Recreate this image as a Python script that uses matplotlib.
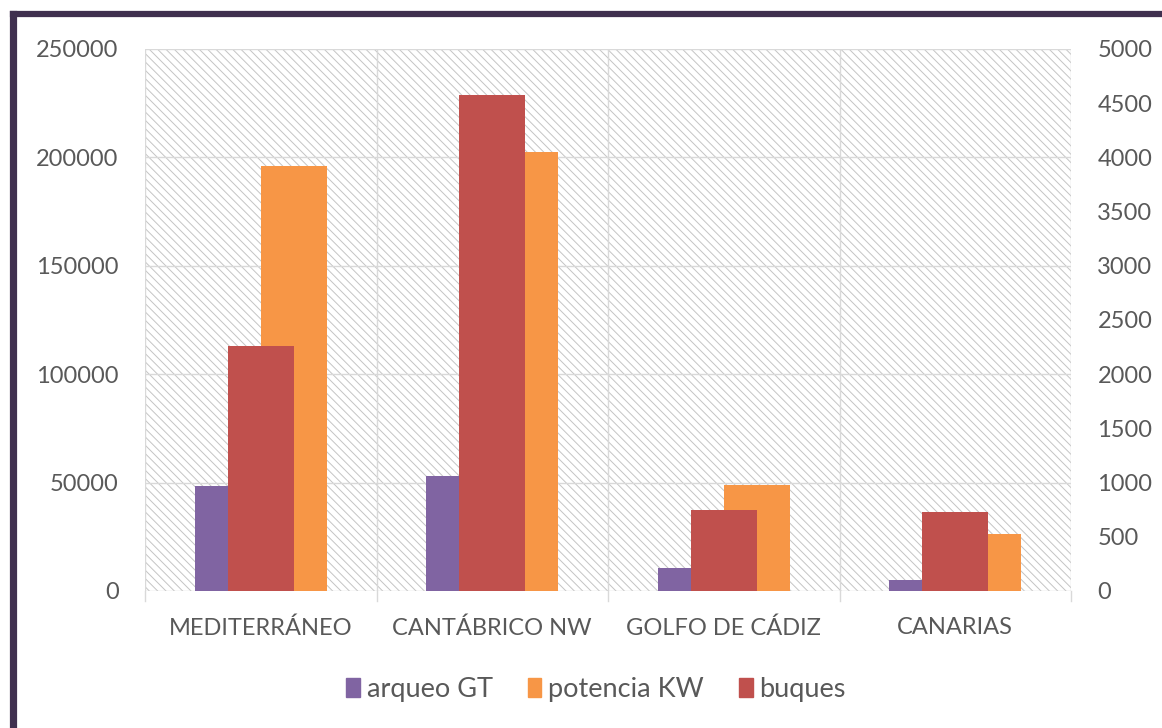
import matplotlib

matplotlib.use("Agg")
import matplotlib.pyplot as plt
import numpy as np
from matplotlib.patches import Rectangle
from matplotlib.lines import Line2D

categories = ["MEDITERRÁNEO", "CANTÁBRICO NW", "GOLFO DE CÁDIZ", "CANARIAS"]
arqueo_gt = [48500, 53000, 10600, 5000]
potencia_kw = [196000, 202500, 49000, 26300]
buques = [2260, 4580, 750, 725]

left_ticks = [0, 50000, 100000, 150000, 200000, 250000]
right_ticks = [0, 500, 1000, 1500, 2000, 2500, 3000, 3500, 4000, 4500, 5000]

PURPLE = "#8064a2"
ORANGE = "#f79646"
RED = "#c0504d"
TEXT = "#595959"
GRID = "#d9d9d9"
BORDER = "#40304f"

plt.rcParams.update({"font.family": ["Lato", "DejaVu Sans"], "hatch.linewidth": 0.7})

fig = plt.figure(figsize=(11.62, 7.28), dpi=100, facecolor="white")
ax = fig.add_axes([0.1248, 0.1882, 0.7969, 0.7445])
ax2 = ax.twinx()

# hatched plot background
ax.patch.set_visible(False)
bg = Rectangle((0, 0), 1, 1, transform=ax.transAxes, facecolor="white",
               edgecolor="#c4c4c4", hatch="\\\\\\\\", linewidth=0, zorder=-5)
ax.add_patch(bg)

x = np.arange(len(categories))
w = 0.285
ax.bar(x - w / 2, arqueo_gt, w, color=PURPLE, zorder=2, label="arqueo GT")
ax.bar(x + w / 2, potencia_kw, w, color=ORANGE, zorder=2, label="potencia KW")
ax2.bar(x, buques, w, color=RED, zorder=2, label="buques")

ax.set_xlim(-0.5, len(categories) - 0.5)
ax.set_ylim(0, 250000)
ax2.set_ylim(0, 5000)
ax.set_yticks(left_ticks, [str(v) for v in left_ticks])
ax2.set_yticks(right_ticks, [str(v) for v in right_ticks])

# gridlines
for v in left_ticks:
    ax.axhline(v, color=GRID, linewidth=1, zorder=1)
for b in np.arange(-0.5, len(categories), 1):
    ax.axvline(b, color=GRID, linewidth=1, zorder=1)
    ax.plot([b, b], [0, -0.018], transform=ax.get_xaxis_transform(), color=GRID,
            linewidth=1, clip_on=False)

ax.set_xticks(x, categories)
for a in (ax, ax2):
    for s in a.spines.values():
        s.set_visible(False)
    a.tick_params(length=0, colors=TEXT, labelsize=17)
ax.tick_params(axis="x", pad=19)
ax.tick_params(axis="y", pad=19)
ax2.tick_params(axis="y", pad=19)
ax2.set_zorder(ax.get_zorder() + 1)
ax2.patch.set_visible(False)

handles = [Rectangle((0, 0), 1, 1, color=PURPLE), Rectangle((0, 0), 1, 1, color=ORANGE),
           Rectangle((0, 0), 1, 1, color=RED)]
fig.legend(handles, ["arqueo GT", "potencia KW", "buques"], loc="center",
           bbox_to_anchor=(0.513, 0.053), ncol=3, frameon=False, fontsize=19.5,
           labelcolor=TEXT, handlelength=0.5, handleheight=0.7, handletextpad=0.25,
           columnspacing=1.3)

# dark outer frame (left and top visible)
fig.add_artist(Line2D([12.5 / 1162, 12.5 / 1162], [0, 1 - 14 / 728], color=BORDER,
                      linewidth=5.2, transform=fig.transFigure, solid_capstyle="projecting"))
fig.add_artist(Line2D([12.5 / 1162, 1], [1 - 14 / 728, 1 - 14 / 728], color=BORDER,
                      linewidth=4.5, transform=fig.transFigure, solid_capstyle="projecting"))

fig.savefig("out.png", dpi=100, facecolor="white")
